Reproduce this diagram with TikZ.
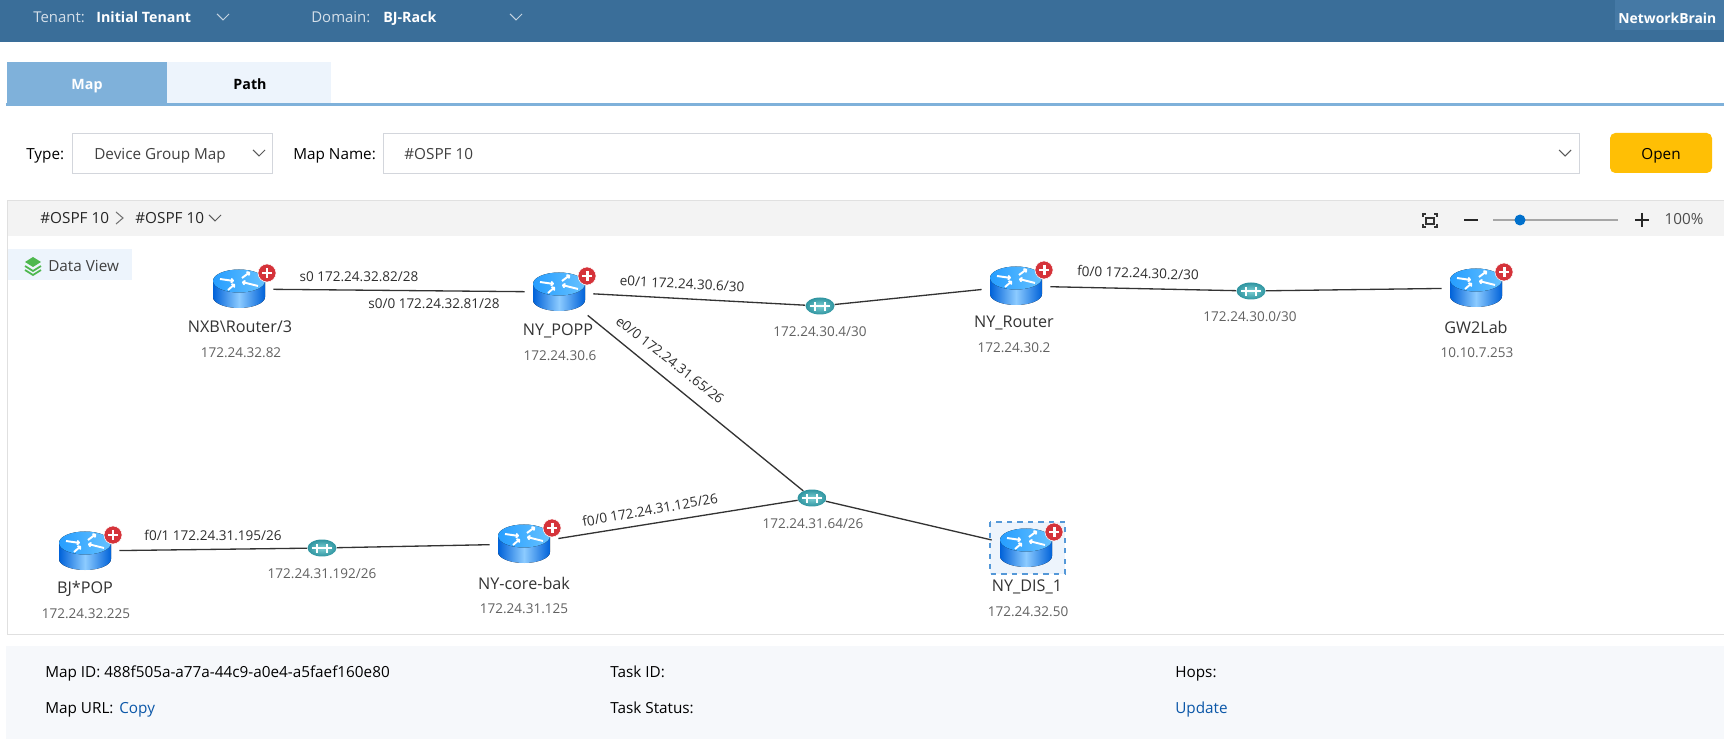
\documentclass[tikz,border=0pt]{standalone}
\usepackage{fontspec}
\setmainfont{Open Sans}
\usetikzlibrary{ positioning, % For easy node-relative placements
                 shapes.geometric, % For ellipse
                 arrows.meta,
               }
\definecolor{hdrblue}{HTML}{3A6E99}
\definecolor{logoblue}{HTML}{4579A5}
\definecolor{tabblue}{HTML}{7FB1DA}
\definecolor{tablight}{HTML}{EDF4FC}
\definecolor{framegray}{HTML}{E0E0E0}
\definecolor{boxgray}{HTML}{D3D6DC}
\definecolor{bandgray}{HTML}{F3F3F3}
\definecolor{footgray}{HTML}{F6F8FB}
\definecolor{openyellow}{HTML}{FFBF05}
\definecolor{linkblue}{HTML}{0B57A8}
\definecolor{badgered}{HTML}{D5333A}
\definecolor{hubin}{HTML}{7CCFD3}
\definecolor{hubout}{HTML}{2E94A0}
\definecolor{stackgreen}{HTML}{4FB84F}
\tikzset{
  ui/.style={inner sep=0pt,text height=1.5ex,text depth=.3ex,font=\fontsize{8.7}{10}\selectfont,text=black!85},
  hdr/.style={ui,anchor=west,text=white!78!hdrblue,font=\fontsize{8.5}{10}\selectfont},
  hdrbold/.style={ui,anchor=west,text=white,font=\fontsize{8.1}{10}\selectfont\bfseries},
  lft/.style={ui,anchor=west},
  field/.style={draw=boxgray,line width=.5pt,fill=white},
  linkline/.style={draw=black!80,line width=.75pt},
  routerbox/.style={rectangle,minimum width=1.36cm,minimum height=.92cm,inner sep=0pt},
  hubnode/.style={ellipse,minimum width=.58cm,minimum height=.34cm,inner sep=0pt,inner color=hubin,outer color=hubout},
  devname/.style={inner sep=0pt,font=\fontsize{9.2}{11}\selectfont,text=black!80},
  devip/.style={inner sep=0pt,font=\fontsize{7.7}{9}\selectfont,text=black!62},
  iflabel/.style={inner sep=0pt,font=\fontsize{7.7}{9}\selectfont,text=black!82},
  chev/.pic={\draw[pic actions,line width=.6pt] (-6,-3) -- (0,3) -- (6,-3);},
  routerpic/.pic={
    \fill[left color=blue!55!cyan!85!black,right color=blue!55!cyan!85!black,middle color=cyan!55!blue!45]
      (-26,-8) -- (-26,8) arc[start angle=180,end angle=0,x radius=26,y radius=11] -- (26,-8) -- cycle;
    \fill[left color=blue!45!cyan!85,right color=cyan!60!blue!60] (0,-8) ellipse [x radius=26,y radius=11.5];
    \draw[white,line width=1.1pt,-{To[length=2pt,width=3pt]}] (-19,-10) -- (-5,-8);
    \draw[white,line width=1.1pt,-{To[length=2pt,width=3pt]}] (19,-3) -- (3,-7);
    \draw[white,line width=1.1pt,-{To[length=2pt,width=3pt]}] (3,-11) -- (11,-17);
    \draw[white,line width=1.1pt,-{To[length=2pt,width=3pt]}] (-11,1) -- (-4,-5);
    \fill[badgered,draw=white,line width=.3pt] (28,-16) circle [radius=9];
    \draw[white,line width=1.7pt] (23,-16) -- (33,-16) (28,-21) -- (28,-11);
  },
  hubpic/.pic={
    \draw[white,line width=.8pt] (-10,0) -- (10,0) (-5,-4) -- (-5,5) (5,-4) -- (5,5);
  },
}
\begin{document}
\begin{tikzpicture}[x=0.02cm,y=-0.02cm]
    \useasboundingbox (0,0) rectangle (1724,739);
    \fill[white] (0,0) rectangle (1724,739);
    % header
    \fill[hdrblue] (0,0) rectangle (1724,42);
    \fill[logoblue] (1615,0) rectangle (1724,30);
    \node[hdr] (tenant) at (33,17) {Tenant:};
    \node[hdrbold] (tenantval) at (96,17) {Initial Tenant};
    \node[hdr] (domain) at (311,17) {Domain:};
    \node[hdrbold] (domainval) at (383,17) {BJ-Rack};
    \node[hdrbold,font=\fontsize{7.9}{10}\selectfont\bfseries] (logo) at (1618,18) {NetworkBrain};
    \pic[draw=white!70!hdrblue] at (223,17) {chev};
    \pic[draw=white!70!hdrblue] at (516,17) {chev};
    % tabs
    \fill[tablight] (167,62) rectangle (331,104);
    \fill[tabblue] (7,62) rectangle (167,104);
    \fill[tabblue] (6,103) rectangle (1724,106);
    \node[ui,text=white,font=\fontsize{8.1}{10}\selectfont\bfseries] (maptab) at (87,84) {Map};
    \node[ui,text=black,font=\fontsize{8.1}{10}\selectfont\bfseries] (pathtab) at (250,84) {Path};
    % form row
    \node[lft,text=black] (typelbl) at (26,154) {Type:};
    \draw[field] (72,133) rectangle (272,173);
    \node[lft,text=black!75] (typeval) at (94,154) {Device Group Map};
    \pic[draw=black!65] at (259,153) {chev};
    \node[lft,text=black] (namelbl) at (293,154) {Map Name:};
    \draw[field] (383,133) rectangle (1579,173);
    \node[lft,text=black!75] (nameval) at (404,154) {\#OSPF 10};
    \pic[draw=black!65] at (1565,153) {chev};
    \fill[openyellow,rounded corners=3pt] (1610,133) rectangle (1712,173);
    \node[ui,text=black] (openbtn) at (1661,154) {Open};
    % map frame
    \fill[bandgray] (7,200) rectangle (1724,236);
    \draw[framegray,line width=.5pt] (1724,200) -- (7,200) -- (7,634) -- (1724,634);
    \node[lft] (crumba) at (40,218) {\#OSPF 10};
    \draw[black!55,line width=.6pt] (116,212) -- (123,218) -- (116,224);
    \node[lft] (crumbb) at (135,218) {\#OSPF 10};
    \pic[draw=black!65] at (215,218) {chev};
    \draw[black!80,line width=.6pt] (1426,218) rectangle (1434,224);
    \draw[black!80,line width=.6pt] (1423,217) -- (1423,214) -- (1426,214) (1434,214) -- (1437,214) -- (1437,217)
      (1437,224) -- (1437,227) -- (1434,227) (1426,227) -- (1423,227) -- (1423,224);
    \draw[black!85,line width=1.2pt] (1464,220) -- (1478,220);
    \draw[black!35,line width=.7pt] (1493,220) -- (1618,220);
    \fill[blue!45!cyan!80!black] (1520,220) circle [radius=5.5];
    \draw[black!85,line width=1.2pt] (1635,220) -- (1649,220) (1642,213) -- (1642,227);
    \node[ui,text=black!70] (zoomval) at (1684,219) {100\%};
    \fill[tablight] (8,249) rectangle (132,280);
    \fill[stackgreen] (33,257) -- (41,262) -- (33,267) -- (25,262) -- cycle;
    \draw[stackgreen,line width=1pt] (25,266) -- (33,271) -- (41,266) (25,270) -- (33,275) -- (41,270);
    \node[lft,text=black!75] (dataview) at (48,266) {Data View};
    % selected device
    \draw[draw=cyan!60!blue!70,dashed,fill=tablight,line width=.6pt] (990,522) rectangle (1065,574);
    % devices
    \node[routerbox] (nxb) at (239,289) {};
    \node[routerbox] (popp) at (559,292) {};
    \node[routerbox] (nyrouter) at (1016,286) {};
    \node[routerbox] (gw) at (1476,288) {};
    \node[routerbox] (bjpop) at (85,551) {};
    \node[routerbox] (core) at (524,544) {};
    \node[routerbox] (dis) at (1026,548) {};
    \node[hubnode] (huba) at (820,306) {};
    \node[hubnode] (hubb) at (1251,291) {};
    \node[hubnode] (hubc) at (812,498) {};
    \node[hubnode] (hubd) at (322,548) {};
    % links
    \draw[linkline] (nxb) -- (popp);
    \draw[linkline] (popp) -- (huba) -- (nyrouter) -- (hubb) -- (gw);
    \draw[linkline] (popp) -- (hubc) -- (dis);
    \draw[linkline] (bjpop) -- (hubd) -- (core) -- (hubc);
    % icons
    \foreach \dev in {nxb,popp,nyrouter,gw,bjpop,core,dis}
      \pic at (\dev) {routerpic};
    \foreach \hub in {huba,hubb,hubc,hubd}
      \pic at (\hub) {hubpic};
    % device labels
    \node[devname] (nxbname) at (240,327) {NXB\textbackslash Router/3};
    \node[devip] (nxbip) at (241,353) {172.24.32.82};
    \node[devname] (poppname) at (558,331) {NY\_POPP};
    \node[devip] (poppip) at (560,356) {172.24.30.6};
    \node[devname] (nyroutername) at (1014,323) {NY\_Router};
    \node[devip] (nyrouterip) at (1014,348) {172.24.30.2};
    \node[devname] (gwname) at (1476,327) {GW2Lab};
    \node[devip] (gwip) at (1477,353) {10.10.7.253};
    \node[devname] (bjpopname) at (85,589) {BJ*POP};
    \node[devip] (bjpopip) at (86,614) {172.24.32.225};
    \node[devname] (corename) at (524,583) {NY-core-bak};
    \node[devip] (coreip) at (524,609) {172.24.31.125};
    \node[devname] (disname) at (1027,587) {NY\_DIS\_1};
    \node[devip] (disip) at (1028,612) {172.24.32.50};
    \node[devip] (hubaip) at (820,332) {172.24.30.4/30};
    \node[devip] (hubbip) at (1250,317) {172.24.30.0/30};
    \node[devip] (hubcip) at (813,524) {172.24.31.64/26};
    \node[devip] (hubdip) at (322,574) {172.24.31.192/26};
    % interface labels
    \node[iflabel] (ifa) at (359,277) {s0 172.24.32.82/28};
    \node[iflabel] (ifb) at (434,304) {s0/0 172.24.32.81/28};
    \node[iflabel,rotate=-3] (ifc) at (682,284) {e0/1 172.24.30.6/30};
    \node[iflabel,rotate=-2] (ifd) at (1138,273) {f0/0 172.24.30.2/30};
    \node[iflabel,rotate=-38] (ife) at (670,360) {e0/0 172.24.31.65/26};
    \node[iflabel,rotate=10] (iff) at (650,510) {f0/0 172.24.31.125/26};
    \node[iflabel] (ifg) at (213,535) {f0/1 172.24.31.195/26};
    % footer
    \fill[footgray] (6,646) rectangle (1724,739);
    \node[lft,text=black] (mapid) at (45,672) {Map ID: 488f505a-a77a-44c9-a0e4-a5faef160e80};
    \node[lft,text=black] (mapurl) at (45,708) {Map URL:};
    \node[lft,text=linkblue] (copy) at (119,708) {Copy};
    \node[lft,text=black] (taskid) at (610,672) {Task ID:};
    \node[lft,text=black] (taskstatus) at (610,708) {Task Status:};
    \node[lft,text=black] (hops) at (1175,672) {Hops:};
    \node[lft,text=linkblue] (update) at (1175,708) {Update};
  \end{tikzpicture}
\end{document}
